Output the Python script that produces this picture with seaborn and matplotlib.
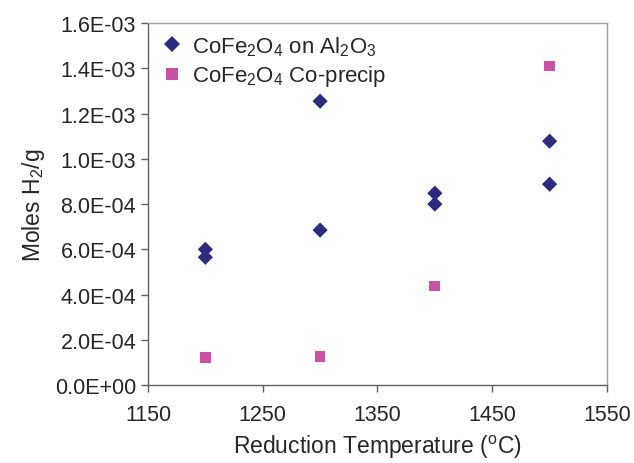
import pandas as pd
import matplotlib
matplotlib.use("Agg")
import matplotlib.pyplot as plt
import seaborn as sns
from matplotlib.ticker import FormatStrFormatter

temp_al2o3 = [1200, 1200, 1300, 1300, 1400, 1400, 1500, 1500]
moles_al2o3 = [6.0e-4, 5.65e-4, 1.255e-3, 6.85e-4, 8.48e-4, 8.0e-4, 1.078e-3, 8.88e-4]
temp_coprecip = [1200, 1300, 1400, 1500]
moles_coprecip = [1.22e-4, 1.26e-4, 4.38e-4, 1.41e-3]

label_al2o3 = "CoFe$_2$O$_4$ on Al$_2$O$_3$"
label_coprecip = "CoFe$_2$O$_4$ Co-precip"

data = pd.DataFrame({
    "Temp": temp_al2o3 + temp_coprecip,
    "Moles": moles_al2o3 + moles_coprecip,
    "Sample": [label_al2o3] * len(temp_al2o3) + [label_coprecip] * len(temp_coprecip),
})

sns.set_style("white")
plt.rcParams["font.family"] = ["Liberation Sans", "DejaVu Sans"]
plt.rcParams["mathtext.default"] = "regular"

fig = plt.figure(figsize=(6.34, 4.64), dpi=100)
ax = fig.add_axes([0.2334, 0.168, 0.724, 0.78])

sns.scatterplot(x="Temp", y="Moles", hue="Sample", style="Sample", data=data,
                palette={label_al2o3: "#2b2b80", label_coprecip: "#c951a6"},
                markers={label_al2o3: "D", label_coprecip: "s"},
                s=60, linewidth=0, ax=ax)

ax.set_xlim(1150, 1550)
ax.set_ylim(0, 1.6e-3)
ax.set_xticks([1150, 1250, 1350, 1450, 1550])
ax.set_yticks([i * 2e-4 for i in range(9)])
ax.yaxis.set_major_formatter(FormatStrFormatter("%.1E"))
ax.tick_params(axis="both", labelsize=15.5, direction="out", length=5, width=1,
               color="#606060", left=True, bottom=True)
ax.tick_params(axis="x", pad=9)
ax.set_xlabel("Reduction Temperature ($^{o}$C)", fontsize=16.5, labelpad=5)
ax.set_ylabel("Moles H$_2$/g", fontsize=16.5, labelpad=6)
for side in ["left", "bottom"]:
    ax.spines[side].set_color("#606060")
for side in ["top", "right"]:
    ax.spines[side].set_color("#a0a0a0")
for sp in ax.spines.values():
    sp.set_linewidth(1)

ax.legend(loc="upper left", frameon=False, fontsize=16, handletextpad=0.3,
          handlelength=1.2, borderaxespad=0.1, labelspacing=0.25, markerscale=1.1)

plt.savefig("out.png", dpi=100)
